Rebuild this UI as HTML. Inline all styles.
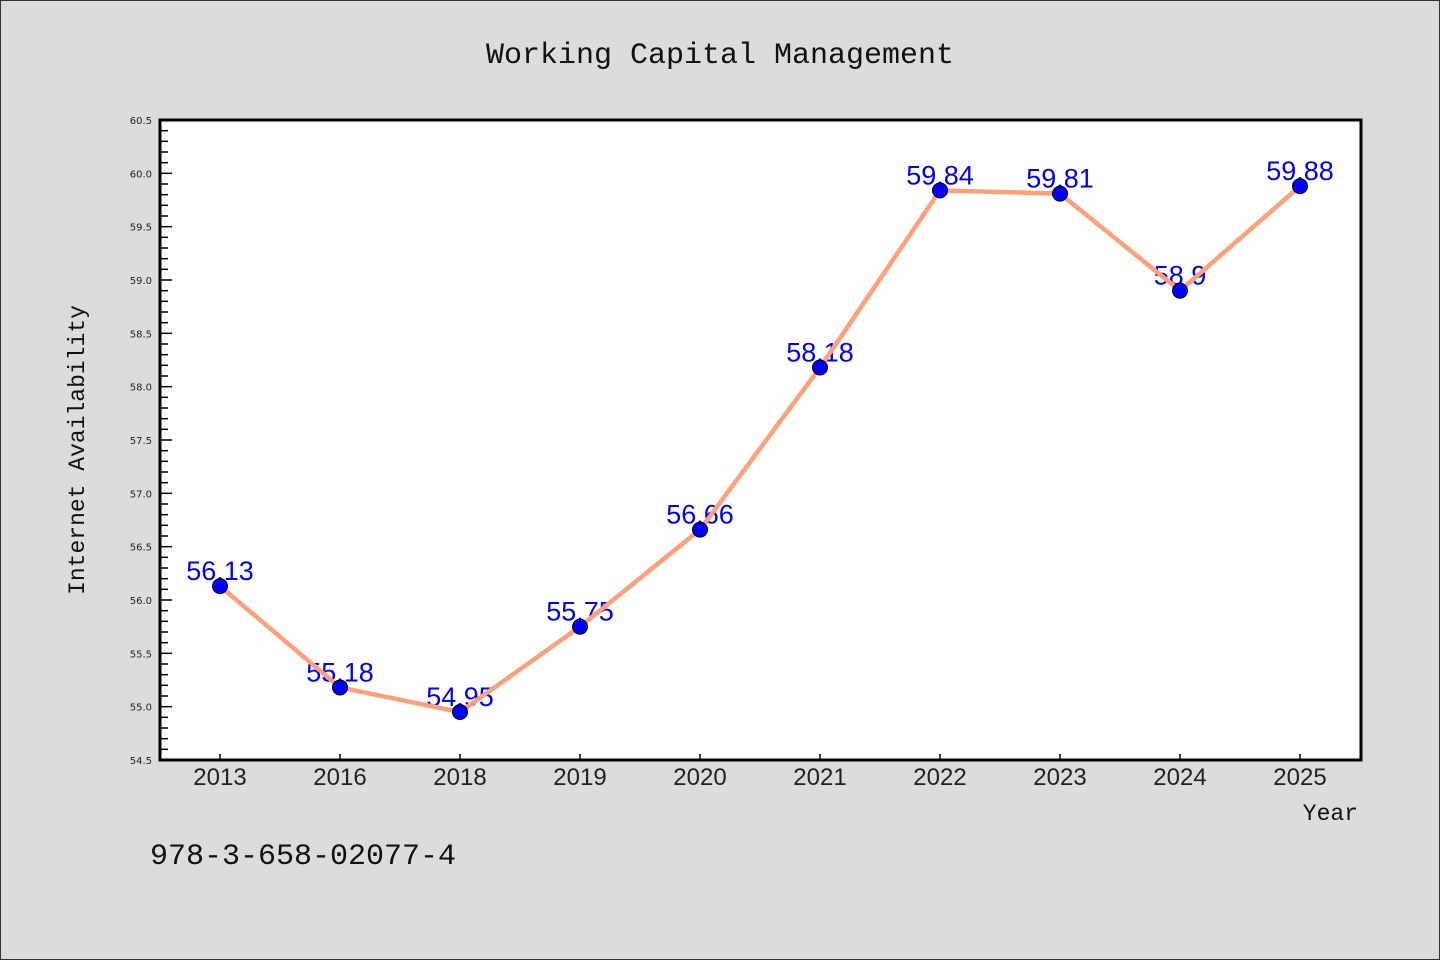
<!DOCTYPE html>
<html><head><meta charset="utf-8"><style>
html,body{margin:0;padding:0;background:#dcdcdc;}
svg{display:block;}
</style></head><body>
<svg width="1440" height="960" xmlns="http://www.w3.org/2000/svg">
<rect x="0.5" y="0.5" width="1439" height="959" fill="#dcdcdc" stroke="#333"/>
<text x="720" y="63" text-anchor="middle" font-family="'Liberation Mono', monospace" font-size="30" fill="#111">Working Capital Management</text>
<rect x="160" y="120" width="1201" height="640" fill="#fff"/>
<g id="yticks"></g>
<g id="xticks"></g>
<g id="labels"></g>
<g id="series"></g>
<rect x="160" y="120" width="1201" height="640" fill="none" stroke="#000" stroke-width="3"/>
<text transform="translate(84,450) rotate(-90)" text-anchor="middle" font-family="'Liberation Mono', monospace" font-size="23" fill="#111">Internet Availability</text>
<text x="1358" y="820" text-anchor="end" font-family="'Liberation Mono', monospace" font-size="23" fill="#111">Year</text>
<text x="150" y="864" font-family="'Liberation Mono', monospace" font-size="30" fill="#111">978-3-658-02077-4</text>
</svg>
<script>
const categories = ["2013","2016","2018","2019","2020","2021","2022","2023","2024","2025"];
const values = [56.13,55.18,54.95,55.75,56.66,58.18,59.84,59.81,58.9,59.88];
const valueLabels = ["56.13","55.18","54.95","55.75","56.66","58.18","59.84","59.81","58.9","59.88"];
const yTickLabels = ["54.5","55.0","55.5","56.0","56.5","57.0","57.5","58.0","58.5","59.0","59.5","60.0","60.5"];
const yMin = 54.5, yMax = 60.5;
const NS = "http://www.w3.org/2000/svg";
const L=160,R=1361,T=120,B=760;
function yScale(v){return B-(v-yMin)/(yMax-yMin)*(B-T);}
function xScale(i){return 220+i*120;}
function mk(tag,attrs,parent){const e=document.createElementNS(NS,tag);for(const k in attrs)e.setAttribute(k,attrs[k]);parent.appendChild(e);return e;}
const yg=document.getElementById('yticks');
for(let m=0;m<=60;m++){
  const v=yMin+m*0.1;const y=yScale(v);const major=m%5===0;
  const t=mk('line',{x1:L,x2:L+(major?12:8),y1:y,y2:y,stroke:'#000','stroke-width':1.5},yg);
  
  
}
yTickLabels.forEach(s=>{
  const y=yScale(parseFloat(s));
  const t=mk('text',{x:152,y:y+4,'text-anchor':'end','font-family':"'DejaVu Sans', sans-serif",'font-size':10,fill:'#222'},yg);
  t.textContent=s;
  
  
});
const xg=document.getElementById('xticks');
categories.forEach((c,i)=>{
  const x=xScale(i);
  const t=mk('line',{x1:x,x2:x,y1:B,y2:B-6,stroke:'#000','stroke-width':1.5},xg);
  
  
  const l=mk('text',{x:x,y:785,'text-anchor':'middle','font-family':"'Liberation Sans', sans-serif",'font-size':24,fill:'#222'},xg);
  l.textContent=c;
  
  
});
const lg=document.getElementById('labels');
values.forEach((v,i)=>{
  const t=mk('text',{x:xScale(i),y:yScale(v)-6,'text-anchor':'middle','font-family':"'Liberation Sans', sans-serif",'font-size':27,fill:'#0000ff'},lg);
  t.textContent=valueLabels[i];
  
  
});
const sg=document.getElementById('series');
const pts=values.map((v,i)=>xScale(i)+','+yScale(v)).join(' ');
const pl=mk('polyline',{points:pts,fill:'none',stroke:'#ffa07a','stroke-width':4.5,'stroke-linejoin':'round'},sg);


values.forEach((v,i)=>{
  const c=mk('circle',{cx:xScale(i),cy:yScale(v),r:7.5,fill:'#0000ff',stroke:'#000','stroke-width':1},sg);
  
  
});
</script>
</body></html>
